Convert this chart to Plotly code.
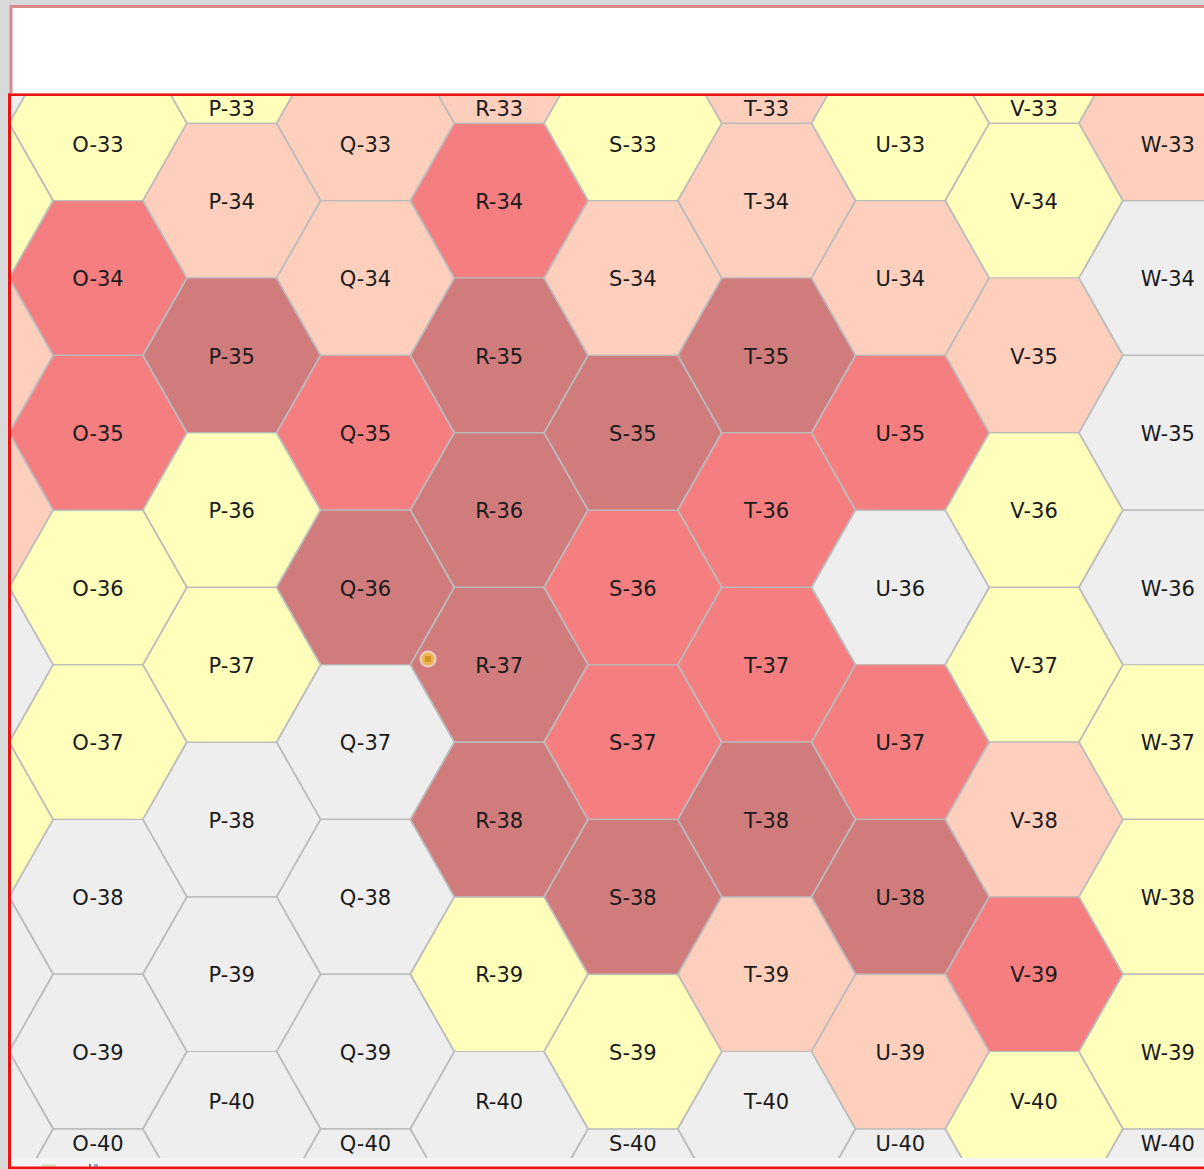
import plotly.graph_objects as go

# ---- data: one status letter per cell, rows 33..40, per column ----
columns = ["N", "O", "P", "Q", "R", "S", "T", "U", "V", "W"]
rows = [33, 34, 35, 36, 37, 38, 39, 40]
status_N = ["g", "y", "p", "p", "g", "y", "g", "g"]
status_O = ["y", "r", "r", "y", "y", "g", "g", "g"]
status_P = ["y", "p", "d", "y", "y", "g", "g", "g"]
status_Q = ["p", "p", "r", "d", "g", "g", "g", "g"]
status_R = ["p", "r", "d", "d", "d", "d", "y", "g"]
status_S = ["y", "p", "d", "r", "r", "d", "y", "g"]
status_T = ["p", "p", "d", "r", "r", "d", "p", "g"]
status_U = ["y", "p", "r", "g", "r", "d", "p", "g"]
status_V = ["y", "y", "p", "y", "y", "p", "r", "y"]
status_W = ["p", "g", "g", "g", "y", "y", "y", "g"]
status_by_col = [status_N, status_O, status_P, status_Q, status_R,
                 status_S, status_T, status_U, status_V, status_W]
unlabelled_columns = ["N"]

palette = {"g": "#EEEEEE", "y": "#FFFFBB", "p": "#FFCFBD", "r": "#F57E80", "d": "#D07C7C"}

# ---- canvas / layout ----
W, H = 1204, 1169
plot_l, plot_t, plot_r, plot_b = 10, 96, 1204, 1160
col_px, col0_px = 133.72, 98.0     # column O sits at index 1
row_px, row34_px = 154.7, 278.0
half_w = 88.5 / col_px
inner_w = 44.5 / col_px

x_range = [1 + (plot_l - col0_px) / col_px, 1 + (plot_r - col0_px) / col_px]
y_range = [34 + (plot_b - row34_px) / row_px, 34 + (plot_t - row34_px) / row_px]


def centre(ci, row):
    # odd indexes (O, Q, S, ...) sit on whole rows, even ones half a row higher
    return ci, row if ci % 2 == 1 else row - 0.5


fig = go.Figure()

# hexagons, one trace per status colour
for key, colour in palette.items():
    xs, ys = [], []
    for ci, stat in enumerate(status_by_col):
        for row, s in zip(rows, stat):
            if s != key:
                continue
            cx, cy = centre(ci, row)
            xs += [cx - half_w, cx - inner_w, cx + inner_w, cx + half_w,
                   cx + inner_w, cx - inner_w, cx - half_w, None]
            ys += [cy, cy - 0.5, cy - 0.5, cy, cy + 0.5, cy + 0.5, cy, None]
    fig.add_trace(go.Scatter(x=xs, y=ys, mode="lines", fill="toself", fillcolor=colour,
                             line=dict(color="#BBBBBB", width=1.2), hoverinfo="skip",
                             showlegend=False))

# labels, centred in the visible part of each hexagon
lx, ly, lt = [], [], []
for ci, col in enumerate(columns):
    if col in unlabelled_columns:
        continue
    for row in rows:
        cx, cy = centre(ci, row)
        top = max(cy - 0.5, y_range[1])
        bottom = min(cy + 0.5, y_range[0])
        mid = (top + bottom) / 2 + 3 / row_px
        if top != cy - 0.5 or bottom != cy + 0.5:
            # clipped cell: the label sits a little above the visible middle
            mid -= (1 + 0.035 * (bottom - top) * row_px) / row_px
        lx.append(cx)
        ly.append(mid)
        lt.append(f"{col}-{row}")
fig.add_trace(go.Scatter(x=lx, y=ly, text=lt, mode="text", textposition="middle center",
                         textfont=dict(family="DejaVu Sans", size=21, color="#1A1A1A"),
                         hoverinfo="skip", showlegend=False))

# small gold medallion on the Q-36 / R-37 corner
medal_x = [1 + (428 - col0_px) / col_px] * 3
medal_y = [34 + (659 - row34_px) / row_px] * 3
fig.add_trace(go.Scatter(x=medal_x, y=medal_y, mode="markers",
                         marker=dict(size=[17, 13, 6], color=["#FFF6E6", "#EFA61E", "#C9861A"],
                                     symbol=["circle", "circle", "square"],
                                     line=dict(width=0)),
                         hoverinfo="skip", showlegend=False))


def px(x):
    return (x - plot_l) / (plot_r - plot_l)


def py(y):
    return 1 - (y - plot_t) / (plot_b - plot_t)


def rect(x0, y0, x1, y1, colour):
    return dict(type="rect", xref="paper", yref="paper", x0=px(x0), x1=px(x1),
                y0=py(y0), y1=py(y1), fillcolor=colour, line=dict(width=0), layer="above")


shapes = [
    rect(9.5, 5, W, 93, "#D98A8C"),         # faded frame of the upper box
    rect(12.5, 8, W, 93, "#FFFFFF"),        # upper white box
    rect(10, 1158, W, 1167, "#F5F5F5"),     # bottom strip
    rect(42, 1164, 56, 1167, "#D5E4C4"),    # screenshot remnants in the strip
    rect(89, 1164, 91, 1167, "#777777"),
    rect(94, 1164, 98, 1167, "#8FA8D0"),
    rect(8, 93.5, W, 96, "#EE1111"),        # red frame: top
    rect(8, 93.5, 11, H, "#EE1111"),        # left
    rect(8, 1166.5, W, H, "#EE1111"),       # bottom
]

fig.update_layout(
    width=W, height=H, autosize=False,
    margin=dict(l=plot_l, r=W - plot_r, t=plot_t, b=H - plot_b, pad=0),
    paper_bgcolor="#D9D9D9", plot_bgcolor="#EEEEEE",
    xaxis=dict(range=x_range, visible=False, fixedrange=True),
    yaxis=dict(range=y_range, visible=False, fixedrange=True),
    shapes=shapes, showlegend=False,
)

fig.write_html("out.html", config={"displayModeBar": False, "responsive": False},
               post_script="document.body.style.margin='0';document.body.style.overflow='hidden';")
